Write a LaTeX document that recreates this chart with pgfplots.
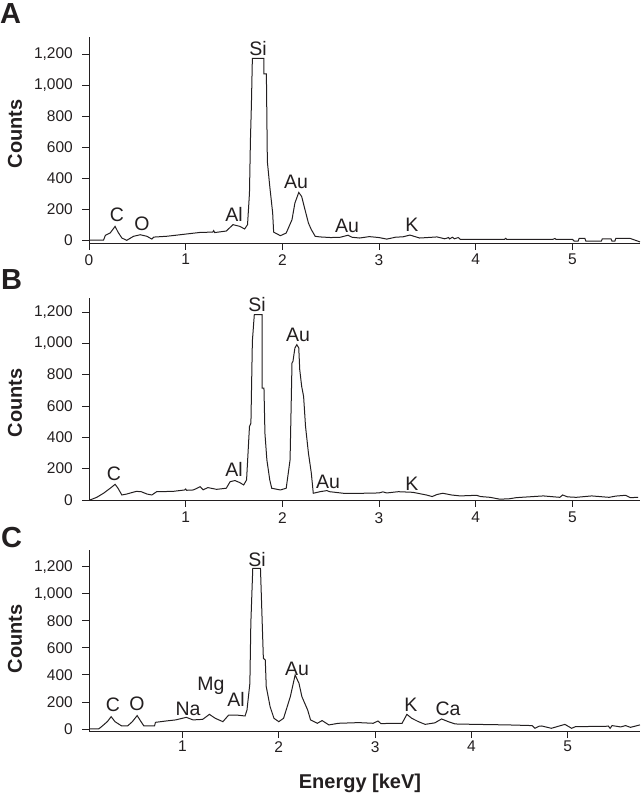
\documentclass[border=0pt]{standalone}
\usepackage{fontspec}
\setmainfont{Liberation Sans}
\usepackage{pgfplots}
\pgfplotsset{compat=1.18}
\usepackage{pgfplotstable}
\definecolor{ink}{RGB}{35,31,32}
\newcommand\tickfont{\fontsize{15.5bp}{18bp}\selectfont}
\newcommand\elfont{\fontsize{19.5bp}{22bp}\selectfont}
\newcommand\labfont{\bfseries\fontsize{20bp}{22bp}\selectfont}
\newcommand\panelfont{\bfseries\fontsize{29bp}{30bp}\selectfont}

\pgfplotstableread{
E C
0.00 3
0.15 3
0.17 35
0.22 50
0.27 92
0.30 55
0.34 17
0.39 2
0.46 28
0.53 38
0.60 28
0.65 10
0.67 23
0.80 28
0.90 35
1.01 43
1.15 53
1.28 55
1.29 65
1.30 52
1.42 62
1.49 103
1.56 92
1.61 75
1.64 103
1.66 306
1.67 648
1.68 873
1.69 1172
1.81 1172
1.81 1072
1.835 1072
1.845 509
1.87 349
1.90 178
1.91 55
1.98 32
2.04 49
2.10 135
2.13 242
2.17 310
2.20 284
2.23 210
2.27 113
2.30 71
2.34 28
2.39 24
2.50 20
2.60 22
2.68 35
2.72 22
2.80 17
2.90 26
3.00 20
3.08 10
3.17 22
3.25 25
3.32 36
3.42 17
3.50 20
3.60 24
3.68 12
3.72 20
3.73 11
3.76 22
3.78 12
3.82 20
3.84 9
4.00 9
4.30 9
4.31 15
4.32 9
4.80 9
4.82 14
4.83 9
5.00 9
5.02 -3
5.06 -3
5.07 14
5.13 14
5.14 -3
5.30 -3
5.31 12
5.40 12
5.41 -3
5.44 -3
5.45 15
5.60 14
5.70 -8
}\dataA

\pgfplotstableread{
E C
0.01 0
0.08 17
0.15 43
0.22 75
0.27 100
0.30 75
0.34 32
0.39 38
0.43 45
0.49 55
0.54 53
0.60 38
0.65 32
0.70 53
0.87 55
0.99 64
1.00 70
1.01 62
1.08 64
1.15 85
1.18 65
1.23 79
1.32 68
1.42 75
1.46 117
1.51 124
1.56 111
1.60 96
1.63 128
1.66 469
1.675 490
1.69 1013
1.71 1183
1.79 1183
1.79 714
1.81 714
1.82 426
1.84 256
1.87 128
1.89 75
1.98 64
2.04 75
2.08 256
2.10 874
2.11 885
2.13 970
2.15 991
2.17 970
2.18 832
2.20 725
2.22 661
2.24 469
2.27 299
2.30 171
2.32 43
2.39 53
2.46 60
2.49 53
2.63 43
2.84 43
3.00 45
3.04 52
3.08 45
3.20 53
3.35 49
3.49 32
3.55 22
3.60 35
3.66 43
3.75 32
3.84 26
4.01 30
4.05 22
4.15 17
4.25 5
4.35 8
4.42 15
4.70 26
4.87 17
4.90 32
4.95 20
5.04 17
5.20 26
5.38 17
5.45 25
5.55 30
5.60 15
5.68 17
}\dataB

\pgfplotstableread{
E C
0.03 0
0.13 0
0.16 17
0.22 54
0.26 91
0.30 54
0.37 22
0.43 22
0.48 54
0.53 99
0.57 54
0.60 22
0.71 22
0.72 49
0.83 59
0.93 67
1.04 86
1.11 67
1.21 71
1.28 108
1.34 79
1.42 54
1.48 103
1.56 103
1.65 96
1.67 140
1.70 337
1.71 781
1.73 1187
1.81 1187
1.84 522
1.86 510
1.87 313
1.91 165
1.95 79
2.00 54
2.05 79
2.12 239
2.17 399
2.21 337
2.24 239
2.30 140
2.33 67
2.40 42
2.45 62
2.52 30
2.62 42
2.83 47
2.98 42
3.03 59
3.06 40
3.28 42
3.33 108
3.38 79
3.45 54
3.52 34
3.59 42
3.62 45
3.69 74
3.76 54
3.83 37
4.04 34
4.38 30
4.63 25
4.66 5
4.70 20
4.73 22
4.83 5
4.97 34
5.04 5
5.08 17
5.40 20
5.42 22
5.44 5
5.46 25
5.55 15
5.60 25
5.65 12
5.75 30
}\dataC

\pgfplotsset{
  panel/.style={
    scale only axis, width=551bp,
    axis x line*=bottom, axis y line*=left,
    tick align=outside, major tick length=7bp,
    tick style={line width=0.8bp, color=ink},
    axis line style={line width=0.9bp, color=ink},
    ytick={0,200,...,1200},
    every tick label/.append style={font=\tickfont, text=ink},
    /pgf/number format/assume math mode=true,
    /pgf/number format/1000 sep={,},
    yticklabel style={anchor=east, inner sep=0pt, xshift=-9bp},
    xticklabel style={anchor=north, inner sep=0pt},
    clip=false,
  },
  trace/.style={ink, line width=1bp, mark=none},
}

\begin{document}
\begin{tikzpicture}
\useasboundingbox (0bp,0bp) rectangle (643bp,794bp);
% Panel A
\begin{axis}[panel, at={(89bp,551bp)}, anchor=south west, height=206bp,
  xmin=0, xmax=5.7, ymin=-15, ymax=1310, xtick={0,...,5},
  xticklabel style={yshift=-4bp}]
\addplot[trace] table[x=E,y=C]{\dataA};
\end{axis}
% Panel B
\begin{axis}[panel, at={(89bp,294bp)}, anchor=south west, height=202bp,
  xmin=0, xmax=5.7, ymin=0, ymax=1289, xtick={1,...,5},
  xticklabel style={yshift=-5bp}]
\addplot[trace] table[x=E,y=C]{\dataB};
\end{axis}
% Panel C
\begin{axis}[panel, at={(89bp,63bp)}, anchor=south west, height=181bp,
  xmin=0.03, xmax=5.75, ymin=-15, ymax=1323, xtick={1,...,5},
  xticklabel style={yshift=-3bp}]
\addplot[trace] table[x=E,y=C]{\dataC};
\end{axis}

\begin{scope}[x=1bp,y=1bp]
% panel letters
\node[anchor=base west, inner sep=0pt, text=ink, font=\panelfont] at (0,770) {A};
\node[anchor=base west, inner sep=0pt, text=ink, font=\panelfont] at (1,504) {B};
\node[anchor=base west, inner sep=0pt, text=ink, font=\panelfont] at (1,247) {C};

% y labels
\node[rotate=90, text=ink, font=\labfont] at (15,660) {Counts};
\node[rotate=90, text=ink, font=\labfont] at (15,391) {Counts};
\node[rotate=90, text=ink, font=\labfont] at (15,155) {Counts};
% x label
\node[anchor=base, inner sep=0pt, text=ink, font=\labfont] at (360,6) {Energy [keV]};

% element labels, panel A
\begin{scope}[every node/.style={anchor=base, inner sep=0pt, text=ink, font=\elfont}]
\node at (117,572.3) {C};
\node at (142,563) {O};
\node at (234,572.3) {Al};
\node at (258,738) {Si};
\node at (296,605.7) {Au};
\node at (347,561.3) {Au};
\node at (412,562.3) {K};
% panel B
\node at (114,314) {C};
\node at (234,317.3) {Al};
\node at (257,482.3) {Si};
\node at (298,452.3) {Au};
\node at (328,305.7) {Au};
\node at (412,304) {K};
% panel C
\node at (113,82.3) {C};
\node at (137,84) {O};
\node at (188,79) {Na};
\node at (211,104) {Mg};
\node at (236,87.3) {Al};
\node at (257,227.3) {Si};
\node at (297,119) {Au};
\node at (411,82.3) {K};
\node at (448,79) {Ca};
\end{scope}
\end{scope}
\end{tikzpicture}
\end{document}
